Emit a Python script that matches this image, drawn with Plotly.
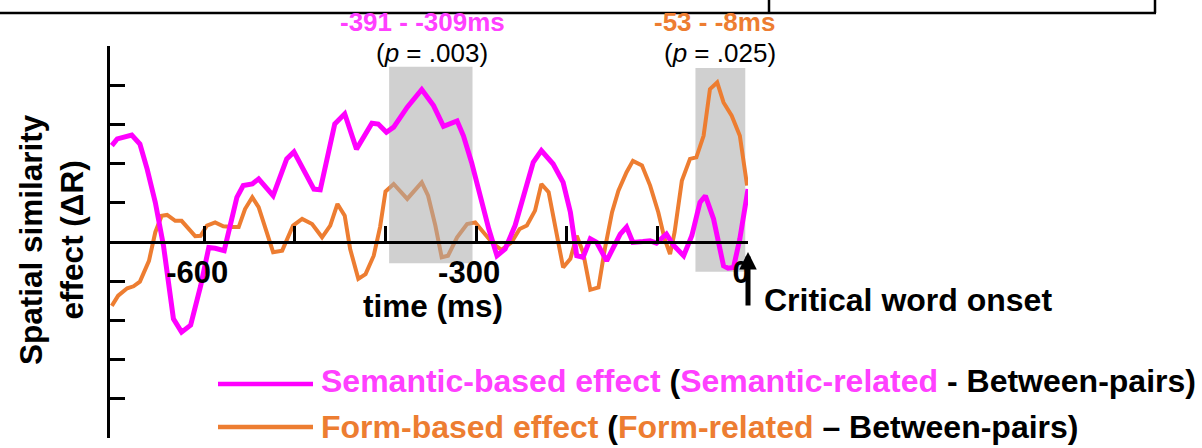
import plotly.graph_objects as go

# ---------------- data ----------------
sem_time = [-702, -696, -680, -671, -663, -654, -645, -634, -625, -615, -604, -595, -588, -578,
            -564, -557, -547, -540, -524, -509, -501, -479, -472, -456, -445, -432, -415, -408,
            -399, -391, -376, -360, -347, -336, -321, -314, -305, -296, -286, -277, -268, -257,
            -246, -237, -228, -215, -204, -196, -189, -182, -174, -167, -156, -141, -134, -127,
            -116, -108, -101, -90, -82, -71, -62, -53, -47, -38, -27, -22, -16, -9, 0]
sem_val = [0.0246, 0.0263, 0.0273, 0.0250, 0.0186, 0.0101, -0.0009, -0.0196, -0.0230, -0.0212,
           -0.0112, -0.0014, -0.0016, -0.0022, 0.0114, 0.0144, 0.0148, 0.0161, 0.0118, 0.0212,
           0.0230, 0.0135, 0.0133, 0.0301, 0.0327, 0.0237, 0.0303, 0.0301, 0.0280, 0.0293,
           0.0344, 0.0389, 0.0348, 0.0295, 0.0309, 0.0271, 0.0203, 0.0118, 0.0033, -0.0035,
           -0.0018, 0.0042, 0.0127, 0.0203, 0.0233, 0.0199, 0.0152, 0.0076, -0.0035, -0.0039,
           0.0008, -0.0001, -0.0048, 0.0020, 0.0038, -0.0001, 0.0001, 0.0003, -0.0003, 0.0020,
           -0.0009, -0.0035, 0.0016, 0.0101, 0.0118, 0.0059, -0.0061, -0.0067, -0.0065, 0.0008,
           0.0135]

form_time = [-702, -695, -685, -678, -671, -661, -654, -647, -641, -632, -625, -617, -610, -604,
             -597, -588, -579, -569, -562, -555, -547, -540, -531, -524, -514, -502, -492, -481,
             -470, -461, -453, -445, -439, -430, -422, -413, -406, -400, -391, -376, -360, -353,
             -345, -338, -331, -321, -310, -301, -292, -281, -272, -261, -252, -244, -235, -228,
             -220, -211, -204, -196, -189, -182, -174, -165, -158, -150, -143, -134, -127, -117,
             -108, -99, -92, -86, -81, -73, -64, -57, -49, -42, -34, -27, -18, -9, -1]
form_val = [-0.0163, -0.0137, -0.0118, -0.0113, -0.0101, -0.0048, 0.0025, 0.0067, 0.0069, 0.0054,
            0.0054, 0.0033, 0.0015, 0.0016, 0.0042, 0.0050, 0.0040, 0.0038, 0.0038, 0.0084,
            0.0114, 0.0089, 0.0025, -0.0026, -0.0022, 0.0042, 0.0059, 0.0046, 0.0012, 0.0042,
            0.0097, 0.0067, -0.0018, -0.0094, -0.0082, -0.0035, 0.0038, 0.0129, 0.0148, 0.0110,
            0.0152, 0.0118, 0.0042, -0.0039, -0.0035, 0.0012, 0.0046, 0.0050, 0.0025, -0.0005,
            -0.0020, -0.0001, 0.0033, 0.0042, 0.0080, 0.0148, 0.0127, 0.0016, -0.0065, -0.0043,
            0.0016, -0.0026, -0.0122, -0.0116, -0.0018, 0.0076, 0.0131, 0.0178, 0.0207, 0.0195,
            0.0144, 0.0076, 0.0008, -0.0031, 0.0025, 0.0156, 0.0212, 0.0216, 0.0271, 0.0390,
            0.0407, 0.0356, 0.0322, 0.0271, 0.0144]

# significant windows (ms) and their p values
sem_window = [-391, -309]
form_window = [-53, -8]
sem_p = ".003"
form_p = ".025"

x_tick_vals = [-600, -500, -400, -300, -200, -100, 0]
x_tick_text = ["-600", "", "", "-300", "", "", "0"]
y_tick_step = 0.01

MAGENTA = "#ff00ff"
MAGENTA_TXT = "#ff40ff"
ORANGE = "#ed7d31"
FONT = "Liberation Sans, Arial, sans-serif"

# ---------------- geometry helpers (pixel -> paper) ----------------
W, H = 1202, 448
L, R, T, B = 110, 454, 46, 10
PW, PH = W - L - R, H - T - B


def px(xp):
    return (xp - L) / PW


def py(yp):
    return (H - B - yp) / PH


pad = 5  # half-sample padding of the shaded windows (ms)
y_lo, y_hi = -0.05, 0.05

fig = go.Figure()

# form-window shading (below everything)
fig.add_shape(type="rect", xref="x", yref="y",
              x0=form_window[0] - pad, x1=form_window[1] + pad,
              y0=-0.0076, y1=0.0444,
              fillcolor="#d0d0d0", line_width=0, layer="below")

# form-based effect
fig.add_trace(go.Scatter(x=form_time, y=form_val, mode="lines",
                         line=dict(color=ORANGE, width=4), hoverinfo="skip"))

# semantic-window shading (between the two curves, translucent)
sx0, sx1 = sem_window[0] - pad, sem_window[1] + pad
fig.add_trace(go.Scatter(x=[sx0, sx1, sx1, sx0, sx0],
                         y=[0.0447, 0.0447, -0.0054, -0.0054, 0.0447],
                         mode="lines", fill="toself",
                         fillcolor="rgba(171,171,171,0.56)",
                         line=dict(width=0), hoverinfo="skip"))

# semantic-based effect
fig.add_trace(go.Scatter(x=sem_time, y=sem_val, mode="lines",
                         line=dict(color=MAGENTA, width=5), hoverinfo="skip"))

fig.update_layout(
    width=W, height=H,
    margin=dict(l=L, r=R, t=T, b=B),
    plot_bgcolor="white", paper_bgcolor="white",
    showlegend=False,
    font=dict(family=FONT, color="black"),
    xaxis=dict(range=[-704, 0], anchor="free", position=0.5, side="bottom",
               showline=True, linecolor="black", linewidth=2.5,
               ticks="inside", ticklen=15, tickwidth=2.5, tickcolor="black",
               tickvals=x_tick_vals, ticktext=x_tick_text,
               tickfont=dict(size=31, family=FONT, color="black", weight="bold"),
               ticklabelstandoff=2, ticklabelshift=-7,
               showgrid=False, zeroline=False),
    yaxis=dict(range=[y_lo, y_hi], showline=True, linecolor="black", linewidth=2.5,
               ticks="inside", ticklen=15, tickwidth=2.5, tickcolor="black",
               dtick=y_tick_step, tick0=0, showticklabels=False,
               showgrid=False, zeroline=False),
)

# top frame remnants
fig.add_shape(type="line", xref="paper", yref="paper", x0=px(0), x1=px(1156), y0=py(13), y1=py(13),
              line=dict(color="black", width=2.5))
fig.add_shape(type="line", xref="paper", yref="paper", x0=px(769), x1=px(769), y0=py(0), y1=py(13),
              line=dict(color="black", width=2.5))
fig.add_shape(type="line", xref="paper", yref="paper", x0=px(1155), x1=px(1155), y0=py(0), y1=py(13),
              line=dict(color="black", width=2.5))

C = dict(xanchor="center", yanchor="middle", showarrow=False)
ann = []
# window labels
ann.append(dict(x=px(422), xref="paper", y=py(22), yref="paper",
                text=f"<b>{sem_window[0]} - {sem_window[1]}ms</b>",
                font=dict(size=26, color=MAGENTA_TXT, family=FONT), **C))
ann.append(dict(x=px(432), xref="paper", y=py(53), yref="paper",
                text=f"(<i>p</i> = {sem_p})",
                font=dict(size=26, color="black", family=FONT), **C))
ann.append(dict(x=px(714), xref="paper", y=py(22), yref="paper",
                text=f"<b>{form_window[0]} - {form_window[1]}ms</b>",
                font=dict(size=26, color=ORANGE, family=FONT), **C))
ann.append(dict(x=px(720), xref="paper", y=py(53), yref="paper",
                text=f"(<i>p</i> = {form_p})",
                font=dict(size=26, color="black", family=FONT), **C))

# x-axis title
ann.append(dict(x=px(433), xref="paper", y=py(306), yref="paper", text="<b>time (ms)</b>",
                font=dict(size=31.5, color="black", family=FONT), **C))
# y-axis title
ann.append(dict(x=px(51), xref="paper", y=py(240), yref="paper",
                text="<b>Spatial similarity<br>effect (ΔR)</b>", textangle=-90,
                font=dict(size=31.5, color="black", family=FONT), **C))

# critical word onset arrow + label
ann.append(dict(x=0, xref="x", y=py(252), yref="paper", ax=0, ay=55, text="",
                showarrow=True, arrowhead=2, arrowsize=0.7, arrowwidth=5, arrowcolor="black"))
ann.append(dict(x=px(762), xref="paper", xanchor="left", yanchor="middle", y=py(300), yref="paper",
                text="<b>Critical word onset</b>", showarrow=False,
                font=dict(size=32, color="black", family=FONT)))

# legend
leg_rows = [
    (MAGENTA, 384, 381,
     f"<b><span style='color:{MAGENTA_TXT}'>Semantic-based effect</span> (<span style='color:{MAGENTA_TXT}'>Semantic-related</span> - Between-pairs)</b>"),
    (ORANGE, 427, 427,
     f"<b><span style='color:{ORANGE}'>Form-based effect</span> (<span style='color:{ORANGE}'>Form-related</span> – Between-pairs)</b>"),
]
for col, ypix, ytxt, txt in leg_rows:
    fig.add_shape(type="line", xref="paper", yref="paper", x0=px(218), x1=px(313),
                  y0=py(ypix), y1=py(ypix), line=dict(color=col, width=4.5))
    ann.append(dict(x=px(319), xref="paper", xanchor="left", yanchor="middle", y=py(ytxt), yref="paper",
                    text=txt, showarrow=False, font=dict(size=32, color="black", family=FONT)))

fig.update_layout(annotations=ann)
fig.write_html("out.html", config={"displayModeBar": False},
               post_script="document.body.style.margin='0px';document.body.style.padding='0px';")
